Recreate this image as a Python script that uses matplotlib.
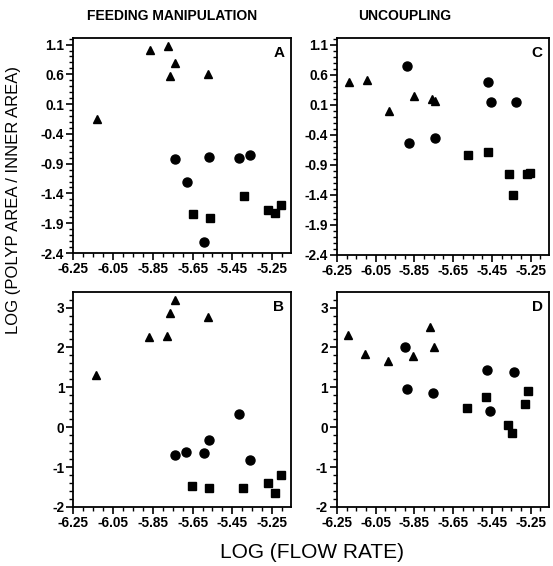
import numpy as np
import matplotlib
matplotlib.use("Agg")
import matplotlib.pyplot as plt
from matplotlib.ticker import MultipleLocator, FixedLocator

plt.rcParams["font.family"] = ["Liberation Sans", "DejaVu Sans"]
plt.rcParams["axes.unicode_minus"] = False

# panel A: feeding manipulation, log(polyp area / inner area)
a_tri_x = [-6.132, -5.865, -5.774, -5.739, -5.762, -5.570]
a_tri_y = [-0.15, 1.01, 1.07, 0.79, 0.57, 0.61]
a_cir_x = [-5.737, -5.566, -5.415, -5.361, -5.680, -5.593]
a_cir_y = [-0.83, -0.79, -0.81, -0.75, -1.20, -2.22]
a_sq_x = [-5.649, -5.563, -5.393, -5.271, -5.234, -5.207]
a_sq_y = [-1.75, -1.81, -1.44, -1.68, -1.72, -1.60]

# panel B
b_tri_x = [-6.135, -5.867, -5.777, -5.766, -5.740, -5.572]
b_tri_y = [1.32, 2.26, 2.28, 2.86, 3.18, 2.77]
b_cir_x = [-5.739, -5.681, -5.595, -5.568, -5.416, -5.362]
b_cir_y = [-0.70, -0.63, -0.65, -0.31, 0.34, -0.81]
b_sq_x = [-5.651, -5.565, -5.394, -5.271, -5.234, -5.207]
b_sq_y = [-1.48, -1.53, -1.53, -1.39, -1.65, -1.21]

# panel C: uncoupling
c_tri_x = [-6.187, -6.097, -5.980, -5.851, -5.761, -5.744]
c_tri_y = [0.48, 0.51, 0.00, 0.24, 0.20, 0.16]
c_cir_x = [-5.888, -5.880, -5.744, -5.469, -5.454, -5.328]
c_cir_y = [0.75, -0.54, -0.45, 0.47, 0.14, 0.14]
c_sq_x = [-5.574, -5.472, -5.364, -5.342, -5.270, -5.252]
c_sq_y = [-0.74, -0.69, -1.06, -1.41, -1.05, -1.04]

# panel D
d_tri_x = [-6.192, -6.104, -5.987, -5.860, -5.770, -5.751]
d_tri_y = [2.31, 1.84, 1.65, 1.78, 2.52, 2.00]
d_cir_x = [-5.897, -5.887, -5.753, -5.474, -5.462, -5.335]
d_cir_y = [2.00, 0.97, 0.85, 1.44, 0.40, 1.39]
d_sq_x = [-5.578, -5.478, -5.367, -5.347, -5.277, -5.262]
d_sq_y = [0.49, 0.75, 0.06, -0.14, 0.58, 0.92]

x_ticks = [-6.25, -6.05, -5.85, -5.65, -5.45, -5.25]
top_yticks = [1.1, 0.6, 0.1, -0.4, -0.9, -1.4, -1.9, -2.4]
bot_yticks = [3, 2, 1, 0, -1, -2]

W, H = 553, 566
fig = plt.figure(figsize=(W / 100, H / 100), dpi=100)


def make_ax(left, right, top, bottom):
    return fig.add_axes([left / W, 1 - bottom / H, (right - left) / W, (bottom - top) / H])


axA = make_ax(73.3, 291, 38, 253)
axC = make_ax(337, 549, 38, 255)
axB = make_ax(73.3, 291, 292, 507)
axD = make_ax(337, 549, 292, 507)

panels = [
    (axA, "A", a_tri_x, a_tri_y, a_cir_x, a_cir_y, a_sq_x, a_sq_y, True),
    (axC, "C", c_tri_x, c_tri_y, c_cir_x, c_cir_y, c_sq_x, c_sq_y, True),
    (axB, "B", b_tri_x, b_tri_y, b_cir_x, b_cir_y, b_sq_x, b_sq_y, False),
    (axD, "D", d_tri_x, d_tri_y, d_cir_x, d_cir_y, d_sq_x, d_sq_y, False),
]

for ax, letter, tx, ty, cx, cy, sx, sy, is_top in panels:
    ax.plot(tx, ty, "^", color="black", markersize=5.5, linestyle="none")
    ax.plot(cx, cy, "o", color="black", markersize=6.5, linestyle="none")
    ax.plot(sx, sy, "s", color="black", markersize=6, linestyle="none")

    ax.set_xlim(-6.25, -5.155)
    ax.xaxis.set_major_locator(FixedLocator(x_ticks))
    ax.xaxis.set_minor_locator(MultipleLocator(0.05))
    ax.set_xticklabels([f"{v:.2f}" for v in x_ticks])

    if is_top:
        ax.set_ylim(-2.4, 1.21)
        ax.yaxis.set_major_locator(FixedLocator(top_yticks))
        ax.yaxis.set_minor_locator(MultipleLocator(0.1))
        ax.set_yticklabels([f"{v:.1f}" for v in top_yticks])
    else:
        ax.set_ylim(-2, 3.39)
        ax.yaxis.set_major_locator(FixedLocator(bot_yticks))
        ax.yaxis.set_minor_locator(MultipleLocator(0.2))
        ax.set_yticklabels([str(v) for v in bot_yticks])

    ax.tick_params(which="major", direction="out", length=5, width=1.2,
                   labelsize=9.8, pad=1.5)
    ax.tick_params(which="minor", direction="out", length=3, width=1.0)
    for lbl in ax.get_xticklabels() + ax.get_yticklabels():
        lbl.set_fontweight("bold")
    for sp in ax.spines.values():
        sp.set_linewidth(1.3)

    ax.text(0.97, 0.93, letter, transform=ax.transAxes, ha="right", va="center",
            fontsize=11, fontweight="bold")

fig.text(172 / W, 1 - 16 / H, "FEEDING MANIPULATION", ha="center", va="center",
         fontsize=10, fontweight="bold")
fig.text(405 / W, 1 - 16 / H, "UNCOUPLING", ha="center", va="center",
         fontsize=10, fontweight="bold")
fig.text(14 / W, 1 - 200 / H, "LOG (POLYP AREA / INNER AREA)", rotation=90,
         ha="center", va="center", fontsize=12)
fig.text(312 / W, 1 - 552 / H, "LOG (FLOW RATE)", ha="center", va="center",
         fontsize=15)

fig.savefig("out.png", dpi=100)
